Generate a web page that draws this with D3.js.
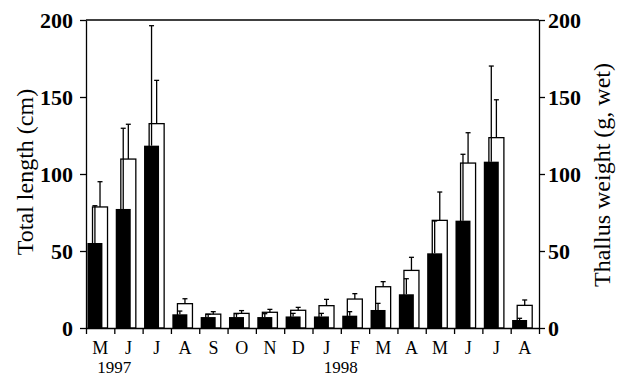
<!DOCTYPE html>
<html>
<head>
<meta charset="utf-8">
<script src="https://cdn.jsdelivr.net/npm/d3@7"></script>
<style>
  body { margin: 0; background: #fff; }
</style>
</head>
<body>
<div id="plot_area"></div>
<script>
// Month labels (May 1997 - Aug 1998)
const months = ['M', 'J', 'J', 'A', 'S', 'O', 'N', 'D', 'J', 'F', 'M', 'A', 'M', 'J', 'J', 'A'];
const years = [['1997', 1], ['1998', 9]];

// Filled bars and their error (SD)
const filledVals = [55.2, 77.3, 118.4, 8.9, 7.1, 7.1, 7.1, 7.5, 7.5, 8.0, 11.7, 21.9, 48.5, 69.7, 108.0, 5.2];
const filledErr  = [24.2, 52.4, 77.9, 2.1, 1.8, 2.2, 2.2, 2.0, 2.0, 2.6, 4.3, 10.1, 21.0, 43.1, 62.1, 1.1];

// Open bars and their error (SD)
const openVals = [78.6, 109.7, 132.7, 15.8, 9.0, 9.5, 10.2, 11.5, 14.5, 18.8, 26.8, 37.4, 69.9, 107.1, 123.6, 14.7];
const openErr  = [16.4, 22.6, 28.1, 3.2, 1.6, 1.8, 1.9, 1.9, 4.1, 3.5, 3.3, 8.5, 18.4, 19.7, 24.6, 3.5];

const yTicks = [0, 50, 100, 150, 200];

const w = 617;
const h = 377;
const padLeft = 86, padRight = 539, padTop = 20, padBottom = 328;
const serif = '"Liberation Serif", "Times New Roman", serif';

const svg = d3.select('#plot_area')
    .append('svg')
    .attr('width', w)
    .attr('height', h);

const idx = d3.range(months.length);

// band scale for the months, linear scale for the boundary ticks
const xScale = d3.scaleBand()
    .domain(idx)
    .range([padLeft, padRight])
    .padding(0);

const xEdge = d3.scaleLinear()
    .domain([0, months.length])
    .range([padLeft, padRight]);

const yScale = d3.scaleLinear()
    .domain([0, 200])
    .range([padBottom, padTop]);

const bw = xScale.bandwidth();

// bar geometry inside each month band
const filledOff = 0.05, openOff = 0.23, barFrac = 0.53;
const capW = 5;

// open bars (behind)
svg.selectAll('rect.open')
   .data(idx)
   .enter()
   .append('rect')
   .attr('class', 'open')
   .attr('x', (i) => xScale(i) + bw * openOff)
   .attr('y', (i) => yScale(openVals[i]))
   .attr('width', bw * barFrac)
   .attr('height', (i) => yScale(0) - yScale(openVals[i]))
   .attr('fill', 'white')
   .attr('stroke', 'black')
   .attr('stroke-width', 1.3);

// filled bars
svg.selectAll('rect.filled')
   .data(idx)
   .enter()
   .append('rect')
   .attr('class', 'filled')
   .attr('x', (i) => xScale(i) + bw * filledOff)
   .attr('y', (i) => yScale(filledVals[i]))
   .attr('width', bw * barFrac)
   .attr('height', (i) => yScale(0) - yScale(filledVals[i]))
   .attr('fill', 'black');

// error bars (upper half only)
function errorBars(vals, errs, off, cls) {
    const cx = (i) => xScale(i) + bw * (off + barFrac / 2);
    const g = svg.selectAll('g.' + cls)
        .data(idx)
        .enter()
        .append('g')
        .attr('class', cls)
        .attr('stroke', 'black')
        .attr('stroke-width', 1.3);
    g.append('line')
     .attr('x1', cx)
     .attr('x2', cx)
     .attr('y1', (i) => yScale(vals[i]))
     .attr('y2', (i) => yScale(vals[i] + errs[i]));
    g.append('line')
     .attr('x1', (i) => cx(i) - capW / 2)
     .attr('x2', (i) => cx(i) + capW / 2)
     .attr('y1', (i) => yScale(vals[i] + errs[i]))
     .attr('y2', (i) => yScale(vals[i] + errs[i]));
}
errorBars(openVals, openErr, openOff, 'err-open');
errorBars(filledVals, filledErr, filledOff, 'err-filled');

// top frame line
svg.append('line')
   .attr('x1', xEdge(0))
   .attr('x2', xEdge(months.length))
   .attr('y1', yScale(200))
   .attr('y2', yScale(200))
   .attr('stroke', 'black')
   .attr('stroke-width', 1.3);

// bottom axis: boundary ticks
svg.append('g')
   .attr('transform', 'translate(0,' + padBottom + ')')
   .call(d3.axisBottom(xEdge)
           .tickValues(d3.range(months.length + 1))
           .tickFormat('')
           .tickSize(6)
           .tickSizeOuter(0))
   .call((g) => g.selectAll('line, path').attr('stroke-width', 1.3));

// month labels
svg.append('g')
   .attr('transform', 'translate(0,' + padBottom + ')')
   .call(d3.axisBottom(xScale)
           .tickFormat((i) => months[i])
           .tickSize(0)
           .tickPadding(13))
   .call((g) => g.select('.domain').remove())
   .call((g) => g.selectAll('text')
                 .style('font-family', serif)
                 .style('font-size', '18px')
                 .attr('fill', 'black'));

// year labels
svg.selectAll('text.year')
   .data(years)
   .enter()
   .append('text')
   .attr('class', 'year')
   .attr('x', (d) => xEdge(d[1]))
   .attr('y', 373)
   .attr('text-anchor', 'middle')
   .style('font-family', serif)
   .style('font-size', '17px')
   .text((d) => d[0]);

// left y-axis
svg.append('g')
   .attr('transform', 'translate(' + padLeft + ',0)')
   .call(d3.axisLeft(yScale)
           .tickValues(yTicks)
           .tickSize(6)
           .tickSizeOuter(0)
           .tickPadding(7))
   .call((g) => g.selectAll('line, path').attr('stroke-width', 1.3))
   .call((g) => g.selectAll('text')
                 .style('font-family', serif)
                 .style('font-size', '22px')
                 .style('font-weight', 'bold')
                 .attr('fill', 'black'));

// right y-axis
svg.append('g')
   .attr('transform', 'translate(' + padRight + ',0)')
   .call(d3.axisRight(yScale)
           .tickValues(yTicks)
           .tickSize(6)
           .tickSizeOuter(0)
           .tickPadding(3))
   .call((g) => g.selectAll('line, path').attr('stroke-width', 1.3))
   .call((g) => g.selectAll('text')
                 .style('font-family', serif)
                 .style('font-size', '22px')
                 .style('font-weight', 'bold')
                 .attr('fill', 'black'));

// axis titles
svg.append('text')
   .attr('text-anchor', 'middle')
   .attr('dominant-baseline', 'central')
   .attr('transform', 'translate(25,172)rotate(-90)')
   .style('font-family', serif)
   .style('font-size', '24px')
   .text('Total length (cm)');

svg.append('text')
   .attr('text-anchor', 'middle')
   .attr('dominant-baseline', 'central')
   .attr('transform', 'translate(602,175)rotate(-90)')
   .style('font-family', serif)
   .style('font-size', '24px')
   .text('Thallus weight (g, wet)');
</script>
</body>
</html>
